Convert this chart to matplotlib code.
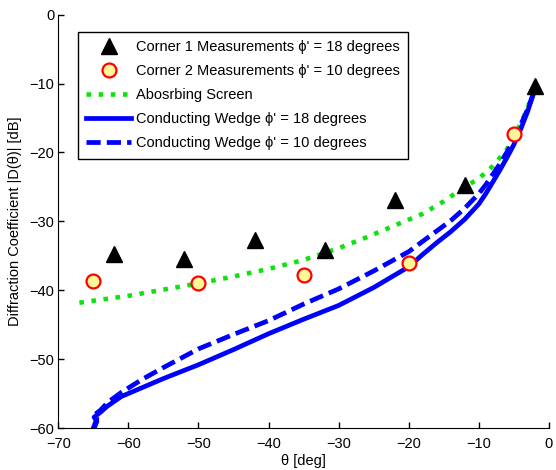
import matplotlib.pyplot as plt
import numpy as np

plt.rcParams['font.family'] = ['Liberation Sans', 'DejaVu Sans']

# measurement points
c1_x = [-62, -52, -42, -32, -22, -12, -2]
c1_y = [-34.8, -35.5, -32.7, -34.1, -26.9, -24.7, -10.3]
c2_x = [-65, -50, -35, -20, -5]
c2_y = [-38.6, -39.0, -37.8, -36.0, -17.3]

# absorbing screen curve
abs_x = [-67, -60, -55, -50, -45, -40, -35, -30, -26, -22, -18, -15, -12, -10, -8, -6, -4, -3, -2]
abs_y = [-41.8, -40.8, -39.9, -39.0, -38.0, -36.9, -35.6, -33.9, -32.3, -30.6, -28.9, -27.1, -25.0, -23.8, -22.0, -19.6, -15.8, -13.5, -10.5]

# conducting wedge phi' = 18
w18_x = [-65.2, -64.5, -64.9, -64.0, -63, -61, -58, -55, -50, -45, -40, -35, -30, -25, -20,
         -18, -16, -14, -12, -10, -9, -8, -7, -6, -5, -4, -3, -2]
w18_y = [-60.8, -59.0, -58.4, -57.7, -56.8, -55.4, -54.1, -52.8, -50.8, -48.6, -46.3, -44.2, -42.2, -39.6, -36.6,
         -34.8, -33.1, -31.5, -29.7, -27.5, -26.0, -24.3, -22.6, -20.8, -18.9, -16.6, -14.0, -10.9]

# conducting wedge phi' = 10
w10_x = [-65.2, -64.5, -64.9, -64.0, -63, -61, -58, -55, -50, -45, -40, -35, -30, -25, -20,
         -18, -16, -14, -12, -10, -9, -8, -7, -6, -5, -4, -3, -2]
w10_y = [-60.5, -58.6, -58.1, -57.4, -56.3, -54.8, -52.9, -51.2, -48.5, -46.4, -44.4, -42.0, -39.8, -37.2, -34.4,
         -32.9, -31.4, -29.9, -28.1, -26.0, -24.7, -23.2, -21.7, -20.0, -18.2, -16.0, -13.7, -10.9]

fig = plt.figure(figsize=(5.56, 4.70), dpi=100)
ax = fig.add_axes([0.105, 0.089, 0.882, 0.880])

ax.plot(c1_x, c1_y, '^', color='black', markersize=11, zorder=5,
        label="Corner 1 Measurements \u03d5' = 18 degrees")
ax.plot(c2_x, c2_y, 'o', markerfacecolor='#fff79a', markeredgecolor='#ff0000',
        markeredgewidth=1.6, markersize=10, zorder=5,
        label="Corner 2 Measurements \u03d5' = 10 degrees")
ax.plot(abs_x, abs_y, ':', color='#11e011', linewidth=3.3, label='Abosrbing Screen')
ax.plot(w18_x, w18_y, '-', color='#0000ff', linewidth=3.4,
        label="Conducting Wedge \u03d5' = 18 degrees")
ax.plot(w10_x, w10_y, '--', color='#0000ff', linewidth=3.4, dashes=(3, 1.3),
        label="Conducting Wedge \u03d5' = 10 degrees")

ax.set_xlim(-70, 0)
ax.set_ylim(-60, 0)
ax.set_xticks(np.arange(-70, 1, 10))
ax.set_yticks(np.arange(-60, 1, 10))
ax.tick_params(direction='in', labelsize=10.5, length=4, width=1)
ax.tick_params(axis='x', pad=6)
ax.tick_params(axis='y', pad=3)
ax.spines['top'].set_visible(False)
ax.spines['right'].set_visible(False)
ax.set_xlabel('\u03b8 [deg]', fontsize=10.5, labelpad=2.5)
ax.set_ylabel('Diffraction Coefficient |D(\u03b8)| [dB]', fontsize=10.5, labelpad=5)

leg = ax.legend(loc='upper left', bbox_to_anchor=(0.039, 0.959), fontsize=10.5,
                handlelength=3.1, fancybox=False, framealpha=1, edgecolor='black',
                borderpad=0.6, labelspacing=0.68, handletextpad=0.3,
                borderaxespad=0)
leg.get_frame().set_linewidth(1.0)

plt.savefig('out.png', dpi=100)
plt.close()
